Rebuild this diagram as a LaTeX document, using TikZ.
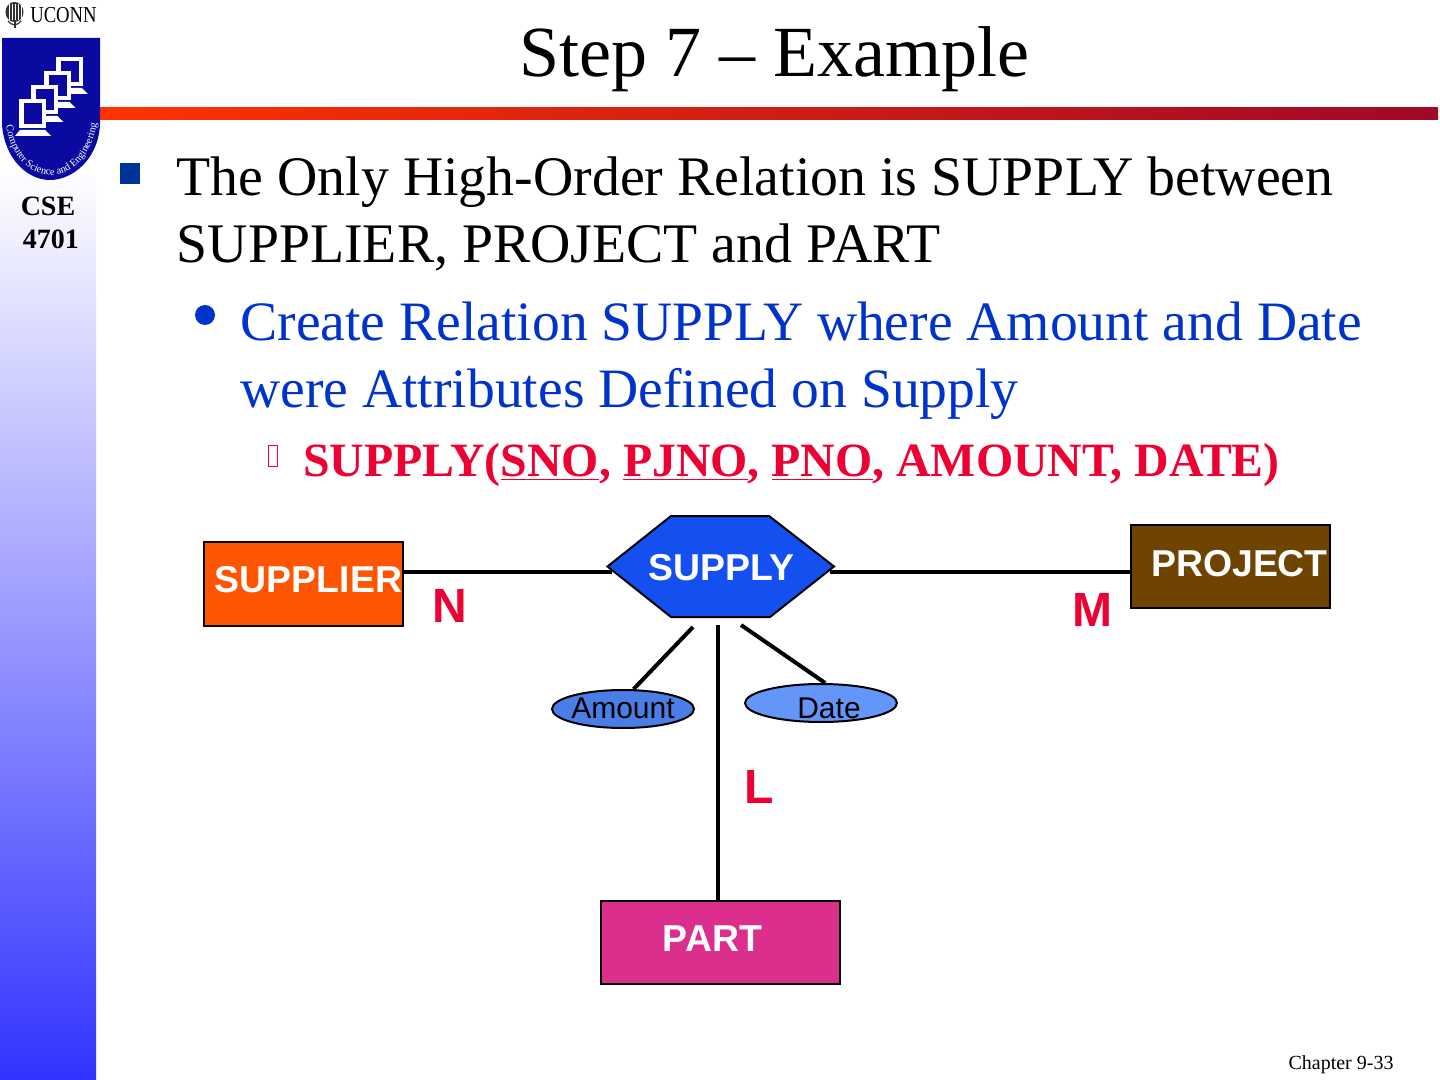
\documentclass[tikz,border=0pt]{standalone}
\usepackage{fontspec}
\setmainfont{Liberation Serif}
\newfontfamily\diagfont{Liberation Sans}
\usetikzlibrary{shapes.geometric,decorations.text}
\definecolor{barleft}{HTML}{FF3300}
\definecolor{barright}{HTML}{A00828}
\definecolor{sidebase}{HTML}{3333FF}
\definecolor{shieldblue}{HTML}{0A0AA0}
\definecolor{bulletblue}{HTML}{003399}
\definecolor{textblue}{HTML}{0033CC}
\definecolor{textred}{HTML}{EE0033}
\definecolor{supplierfill}{HTML}{FF5500}
\definecolor{projectfill}{HTML}{6E4400}
\definecolor{partfill}{HTML}{DC2E8C}
\definecolor{supplyfill}{HTML}{1450F0}
\definecolor{amountfill}{HTML}{4A7DE6}
\definecolor{datefill}{HTML}{6496FA}
\tikzstyle{every node}=[inner sep=0pt]
\tikzstyle{title}=[font=\fontsize{36}{40}\selectfont]
\tikzstyle{levelone}=[anchor=base west,font=\fontsize{27.9}{32}\selectfont]
\tikzstyle{leveltwo}=[anchor=base west,text=textblue,font=\fontsize{27.8}{32}\selectfont]
\tikzstyle{levelthree}=[anchor=base west,text=textred,font=\fontsize{23.9}{28}\selectfont\bfseries]
\tikzstyle{entity}=[draw=black,line width=1pt,rectangle]
\tikzstyle{boxlabel}=[text=white,font=\diagfont\fontsize{18.7}{22}\selectfont\bfseries]
\tikzstyle{attrib}=[draw=black,line width=1pt,ellipse]
\tikzstyle{attriblabel}=[text=black,font=\diagfont\fontsize{15}{18}\selectfont]
\tikzstyle{degree}=[text=textred,font=\diagfont\fontsize{24}{28}\selectfont\bfseries]
\tikzstyle{link}=[line width=1.6pt]
\tikzstyle{linkattr}=[line width=2pt]

\begin{document}
\begin{tikzpicture}[x=0.5pt,y=-0.5pt]
\useasboundingbox (0,0) rectangle (1440,1080);
%Slide frame
	\shade[top color=white,bottom color=sidebase] (0,170) rectangle (96,1080);
	\shade[left color=barleft,right color=barright] (100,108) rectangle (1438,120);
%Logo
	\fill[black!80] (14.5,12) ellipse (9 and 10);
	\foreach \x in {9,12,15,18,21}{
		\draw[white,line width=0.3pt] (\x,4) -- (\x,20);
	}
	\draw[black!80,line width=1pt] (14.5,20) -- (14.5,28);
	\draw[black!80,line width=0.6pt] (8,21) .. controls (11,24) .. (14.5,25) .. controls (18,24) .. (21,21);
	\node[font=\fontsize{11.4}{12}\selectfont,xscale=0.82,transform shape] (uconn) at (63.5,15.5) {UCONN};
	\fill[shieldblue] (2,38) -- (100,38) -- (100,125) .. controls (98,160) and (72,180) .. (50,180) .. controls (28,180) and (5,160) .. (2,125) -- cycle;
	\foreach \i in {3,2,1,0}{
		\begin{scope}[shift={({\i*12.3},{\i*(-14)})}]
		\fill[white] (15,136) -- (20,130) -- (45,130) -- (51,136) -- cycle;
		\fill[white] (19,99) rectangle (46,128);
		\fill[shieldblue] (24,103) rectangle (42,124);
		\end{scope}
	}
	\path[postaction={decorate,decoration={text along path,text align=center,text color=white,
		text={|\fontsize{5.2}{6}\selectfont|Computer Science and Engineering}}}]
		(6,124) .. controls (10,156) and (30,175) .. (51,175) .. controls (72,175) and (92,156) .. (97,122);
	\node[font=\fontsize{14}{16}\selectfont\bfseries] (cse) at (48,206) {CSE};
	\node[font=\fontsize{14}{16}\selectfont\bfseries] (course) at (51,239) {4701};
%Text of the slide
	\node[title] (heading) at (774,59) {Step 7 -- Example};
	\fill[bulletblue] (120,163) rectangle (140,184);
	\node[levelone] (lineA) at (176.5,196) {The Only High-Order Relation is SUPPLY between};
	\node[levelone] (lineB) at (176.5,263) {SUPPLIER, PROJECT and PART};
	\fill[textblue] (205,315) ellipse (10 and 10);
	\node[leveltwo] (lineC) at (240,341) {Create Relation SUPPLY where Amount and Date};
	\node[leveltwo] (lineD) at (240,408) {were Attributes Defined on Supply};
	\draw[textred,line width=0.5pt] (268,446) rectangle (277,466);
	\node[levelthree] (lineE) at (303,476) {SUPPLY(\underline{SNO}, \underline{PJNO}, \underline{PNO}, AMOUNT, DATE)};
	\node[font=\fontsize{10}{12}\selectfont] (chapter) at (1341,1065) {Chapter 9-33};
%Diagram
	\node[entity,fill=supplierfill,minimum width=99.5pt,minimum height=42pt] (supplier) at (303.5,583.5) {};
	\node[entity,fill=projectfill,minimum width=99.5pt,minimum height=41.5pt] (project) at (1230.5,566.5) {};
	\node[entity,fill=partfill,minimum width=119.5pt,minimum height=41.5pt] (part) at (720.5,942.5) {};
	\filldraw[fill=supplyfill,draw=black,line width=1pt] (607.5,566.5) -- (671,516) -- (769,516) -- (834,566.5) -- (770,617) -- (671,617) -- cycle;
	\node[attrib,fill=amountfill,minimum width=71pt,minimum height=19pt] (amount) at (623,709) {};
	\node[attrib,fill=datefill,minimum width=76pt,minimum height=19pt] (date) at (821,703) {};
	\node[boxlabel] (supplierlbl) at (308.5,580) {SUPPLIER};
	\node[boxlabel] (projectlbl) at (1239.5,564) {PROJECT};
	\node[boxlabel] (partlbl) at (712.5,939) {PART};
	\node[boxlabel] (supply) at (721.5,568) {SUPPLY};
	\node[attriblabel] (amountlbl) at (623,708) {Amount};
	\node[attriblabel] (datelbl) at (829,708) {Date};
	\node[degree] (degN) at (450,606) {N};
	\node[degree] (degM) at (1092,610) {M};
	\node[degree] (degL) at (759,787) {L};
%Connectors
	\coordinate (supplyL) at (612,572);
	\coordinate (supplyR) at (830,572);
	\coordinate (capA) at (693,627);
	\coordinate (capL) at (718,625);
	\coordinate (capD) at (741,625);
	\draw[link] (supplier.east |- supplyL) -- (supplyL);
	\draw[link] (supplyR) -- (project.west |- supplyR);
	\draw[linkattr] (capA) -- (amount.62);
	\draw[link] (capL) -- (capL |- part.north);
	\draw[linkattr] (capD) -- (date.78);
\end{tikzpicture}
\end{document}
